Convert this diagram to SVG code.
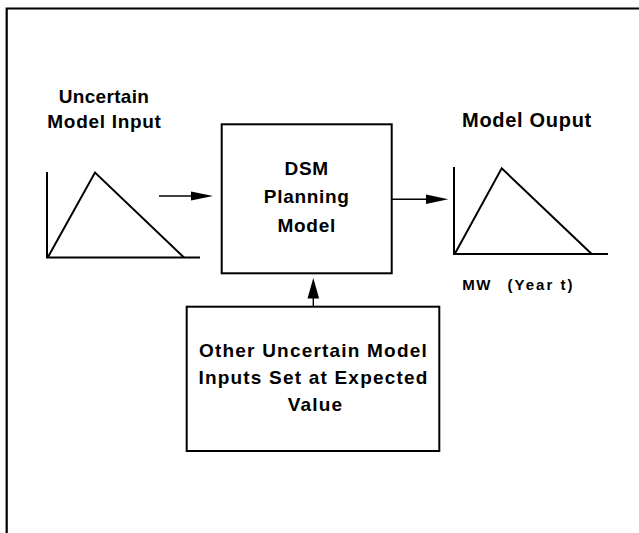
<svg xmlns="http://www.w3.org/2000/svg" width="639" height="533" viewBox="0 0 639 533">
<style>
  .t { font-family: "Liberation Sans", Arial, sans-serif; font-weight: bold; fill: #000; text-anchor: middle; }
  .box { fill: #fff; stroke: #000; stroke-width: 2; }
  .ax { fill: none; stroke: #000; stroke-width: 2; }
  .conn { stroke: #000; stroke-width: 1.4; fill: none; }
  .head { fill: #000; stroke: none; }
</style>
<rect x="0" y="0" width="639" height="533" fill="#fff"/>
<g id="frame">
  <path d="M6.7 533 V8.5 H639" fill="none" stroke="#000" stroke-width="2.2"/>
</g>
<g id="input">
  <text class="t" x="104" y="102.5" font-size="19" letter-spacing="0.3">Uncertain</text>
  <text class="t" x="104.5" y="128" font-size="19" letter-spacing="0.7">Model Input</text>
  <path class="ax" d="M47 172 V257.5 H200"/>
  <path class="ax" d="M48 257 L95 172.5 L184 257.5"/>
</g>
<g id="dsm">
  <rect class="box" x="221.7" y="124.3" width="170" height="149"/>
  <text class="t" x="306.7" y="175" font-size="19" letter-spacing="0.7">DSM</text>
  <text class="t" x="306.7" y="203" font-size="19" letter-spacing="0.7">Planning</text>
  <text class="t" x="306.7" y="231.5" font-size="19" letter-spacing="0.7">Model</text>
</g>
<g id="output">
  <text class="t" x="527" y="127.3" font-size="20" letter-spacing="0.7">Model Ouput</text>
  <path class="ax" d="M454 167 V254 H608"/>
  <path class="ax" d="M455 253.5 L501.7 168.3 L591.7 254"/>
  <text class="t" x="477" y="290" font-size="15" letter-spacing="1.5">MW</text>
  <text class="t" x="541" y="290" font-size="15" letter-spacing="2">(Year t)</text>
</g>
<g id="other">
  <rect class="box" x="186.7" y="306.7" width="252.6" height="144.3"/>
  <text class="t" x="313.5" y="356.7" font-size="19" letter-spacing="1.2">Other Uncertain Model</text>
  <text class="t" x="313.5" y="383.5" font-size="19" letter-spacing="1.2">Inputs Set at Expected</text>
  <text class="t" x="315.5" y="411" font-size="19" letter-spacing="1.2">Value</text>
</g>
<g id="connectors">
  <line class="conn" x1="159" y1="196" x2="195" y2="196"/>
  <polygon class="head" points="213,196 191,191.5 191,200.5"/>
  <line class="conn" x1="392" y1="199.3" x2="430" y2="199.3"/>
  <polygon class="head" points="448.3,199.3 426,194.5 426,204.1"/>
  <line class="conn" x1="313.3" y1="306.7" x2="313.3" y2="292"/>
  <polygon class="head" points="313.3,278 307.5,298.5 319.1,298.5"/>
</g>
</svg>
